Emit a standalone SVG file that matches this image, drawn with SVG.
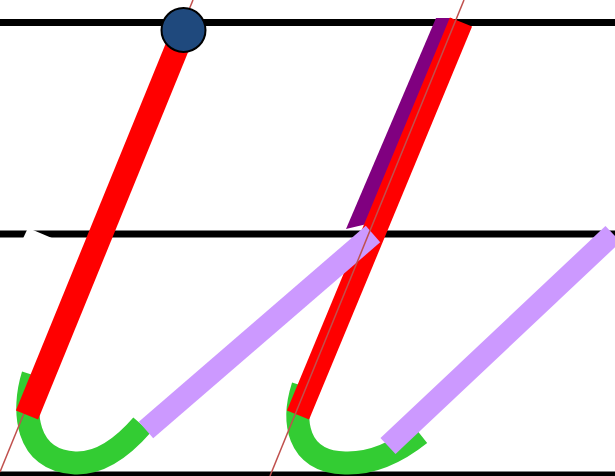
<svg xmlns="http://www.w3.org/2000/svg" width="615" height="476" viewBox="0 0 615 476">
<style>
.rule{stroke:#000;stroke-width:7;fill:none}
.guide{stroke:#C0504D;stroke-width:1.5;fill:none}
.red{stroke:#FF0000;stroke-width:24;fill:none;stroke-linecap:butt}
.green{stroke:#33CC33;stroke-width:23;fill:none;stroke-linecap:butt}
.lav{stroke:#CC99FF;stroke-width:22;fill:none;stroke-linecap:butt}
</style>
<rect width="615" height="476" fill="#fff"/>
<g id="rules">
<line class="rule" x1="0" y1="22.5" x2="615" y2="22.5"/>
<line class="rule" x1="0" y1="234" x2="615" y2="234"/>
<line class="rule" x1="0" y1="475" x2="615" y2="475"/>
<polygon points="23,238.5 27,230 33,230 53,238.5" fill="#fff"/>
</g>
<g id="connectors">
<path id="green1" class="green" d="M33,375 C22,410 25,461 75,463 C100,464 122,448 142,425"/>
<path id="green2" class="green" d="M303,386 C292,420 296,462 345,463 C375,464 400,450 420,434"/>
<line id="guide1" class="guide" x1="193" y1="0" x2="0" y2="472"/>
<polygon id="purple" points="436,18 452,18 367,224 346,229" fill="#800080"/>
<line id="red1" class="red" x1="27" y1="415" x2="185" y2="28"/>
<line id="red2" class="red" x1="298" y1="415" x2="461" y2="22"/>
<line id="lav1" class="lav" x1="146" y1="430" x2="373" y2="234"/>
<line id="lav2" class="lav" x1="388" y1="446" x2="613" y2="234"/>
<line id="guide2" class="guide" x1="464" y1="0" x2="270" y2="476"/>
</g>
<g id="dot">
<circle cx="183.5" cy="30" r="22" fill="#1F497D" stroke="#000" stroke-width="2"/>
</g>
</svg>
